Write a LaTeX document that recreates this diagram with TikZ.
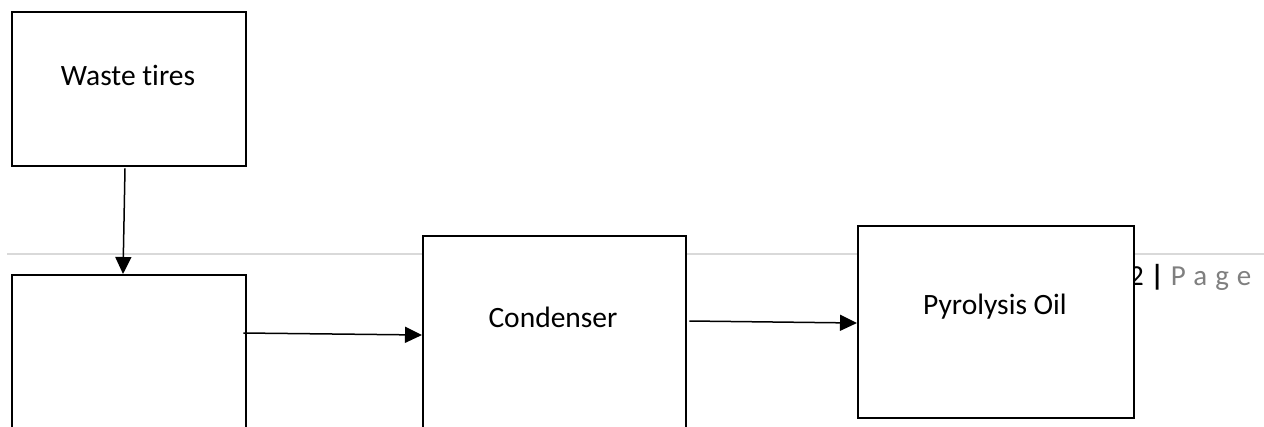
\documentclass[tikz,border=0pt]{standalone}
\usepackage{fontspec}
\setmainfont{Carlito}[Ligatures=NoCommon]
\usetikzlibrary{arrows.meta,calc}
\definecolor{rulegray}{HTML}{D9D9D9}
\definecolor{pagegray}{HTML}{7F7F7F}
\tikzset{
  box/.style={draw=black, fill=white, line width=2.4pt, anchor=north west, inner sep=0pt},
  lbl/.style={font=\fontsize{29.5}{34}\selectfont, inner sep=0pt},
  flow/.style={draw=black, line width=1.5pt, -{Triangle[length=17pt,width=16pt]}},
}
\begin{document}
\begin{tikzpicture}[x=1pt,y=-1pt]
\useasboundingbox (0,0) rectangle (1264,426);
\begin{scope}
\clip (0,0) rectangle (1264,426);
% page footer (behind the boxes)
\draw[rulegray, line width=1.6pt] (7,254) -- (1264,254);
\node[anchor=base west, inner sep=0pt, font=\fontsize{29}{34}\selectfont] (footer) at (1129,285)
  {2 {\bfseries|} \textcolor{pagegray}{\addfontfeature{LetterSpace=28}Page}};
% boxes
\node[box, minimum width=234pt, minimum height=154pt] (waste) at (11,11) {};
\node[box, minimum width=234pt, minimum height=154pt] (reactor) at (11,274) {};
\node[box, minimum width=263pt, minimum height=200pt] (cond) at (422,235) {};
\node[box, minimum width=276pt, minimum height=192pt] (oil) at (857,225) {};
% labels
\node[lbl] (wastelbl) at (128,75) {Waste tires};
\node[lbl] (condlbl) at (553,317) {Condenser};
\node[lbl] (oillbl) at (995,307) {Pyrolysis Oil};
% connectors
\draw[flow] ($(waste.south west)+(114,1)$) -- ($(reactor.north west)+(112,0)$);
\draw[flow] ($(reactor.north east)+(-4,59)$) -- ($(cond.north west)+(0,100)$);
\draw[flow] ($(cond.north east)+(2,86)$) -- ($(oil.north west)+(0,98)$);
\end{scope}
\end{tikzpicture}
\end{document}
